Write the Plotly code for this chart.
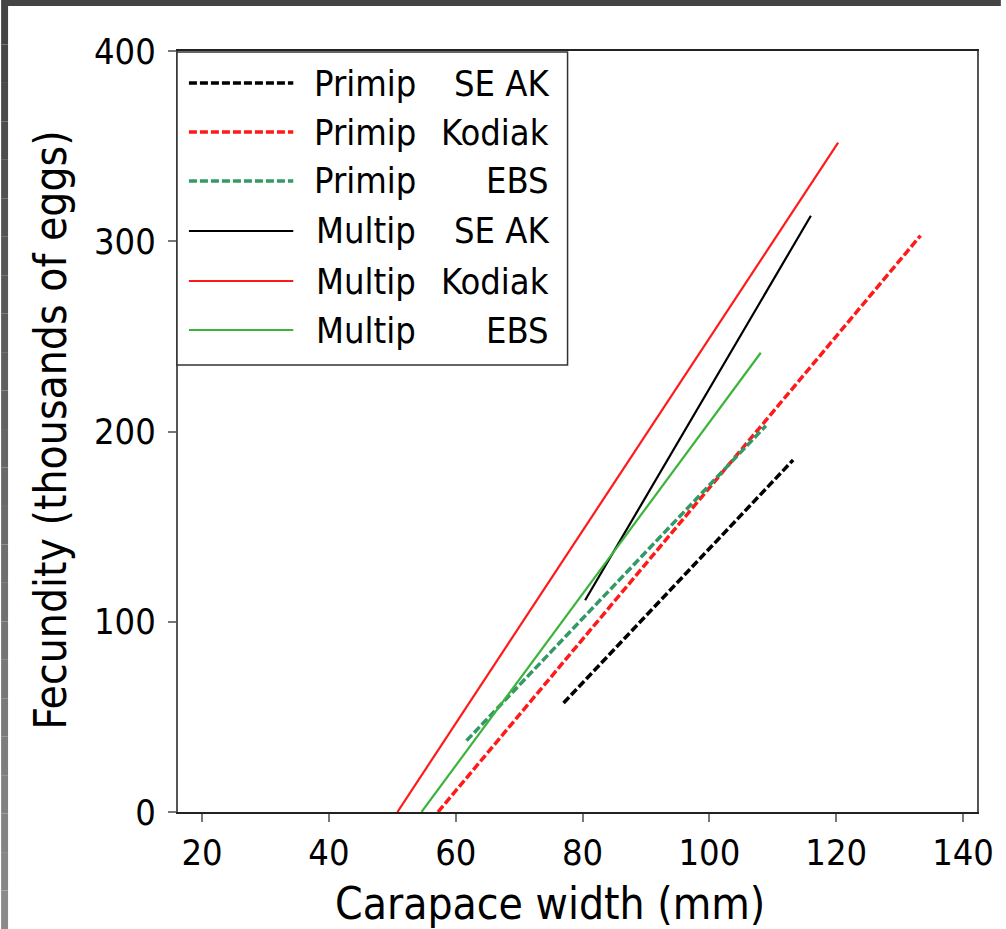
import plotly.graph_objects as go

# ---- data ----
series_names = ["Primip SE AK", "Primip Kodiak", "Primip EBS",
                "Multip SE AK", "Multip Kodiak", "Multip EBS"]
stage_labels = ["Primip", "Primip", "Primip", "Multip", "Multip", "Multip"]
region_labels = ["SE AK", "Kodiak", "EBS", "SE AK", "Kodiak", "EBS"]
x_start = [77.0, 57.2, 61.7, 80.4, 50.8, 54.6]
x_end = [113.2, 133.3, 108.9, 116.0, 120.3, 108.1]
y_start = [57.3, 0.0, 37.5, 111.3, 0.0, 0.0]
y_end = [185.0, 303.0, 203.0, 313.4, 351.8, 241.4]
x_ticks = [20, 40, 60, 80, 100, 120, 140]
y_ticks = [0, 100, 200, 300, 400]

colors = ["#000000", "#ff1a1a", "#339966", "#000000", "#ff1a1a", "#3cb43c"]
dashes = ["8px,3px", "8px,3px", "8px,3px", "solid", "solid", "solid"]
widths = [3.5, 3.5, 3.5, 2.2, 2.2, 2.2]

FONT = "DejaVu Sans Condensed, DejaVu Sans, sans-serif"
W, H = 1006, 929
L, R, T, B = 178, 982, 51, 812


def px(xp):
    return (xp - L) / (R - L)


def py(yp):
    return (B - yp) / (B - T)


fig = go.Figure()
for i, name in enumerate(series_names):
    fig.add_trace(go.Scatter(
        x=[x_start[i], x_end[i]], y=[y_start[i], y_end[i]],
        mode="lines", name=name, showlegend=False,
        line=dict(color=colors[i], dash=dashes[i], width=widths[i]),
    ))

shapes = []
# window frame decoration
shapes.append(dict(type="rect", xref="paper", yref="paper",
                   x0=px(0), x1=px(W), y0=py(6), y1=py(0),
                   fillcolor="#444444", line=dict(width=0), layer="above"))
nseg = 24
for k in range(nseg):
    t = k / (nseg - 1)
    g = int(0x44 + (0x8a - 0x44) * t)
    c = "#%02x%02x%02x" % (g, g, g)
    y0p = 6 + (H - 6) * k / nseg
    y1p = 6 + (H - 6) * (k + 1) / nseg
    shapes.append(dict(type="rect", xref="paper", yref="paper",
                       x0=px(0), x1=px(7), y0=py(y1p), y1=py(y0p),
                       fillcolor=c, line=dict(width=0), layer="above"))

# legend box
shapes.append(dict(type="rect", xref="paper", yref="paper",
                   x0=px(177), x1=px(570), y0=py(365), y1=py(52),
                   fillcolor="white", line=dict(color="#333333", width=1.5),
                   layer="above"))
annotations = []
row_y = [83, 132, 181, 231, 281, 330]
for i in range(len(series_names)):
    shapes.append(dict(type="line", xref="paper", yref="paper",
                       x0=px(189), x1=px(294), y0=py(row_y[i]), y1=py(row_y[i]),
                       line=dict(color=colors[i], dash=dashes[i], width=widths[i]),
                       layer="above"))
    annotations.append(dict(xref="paper", yref="paper", x=px(420), y=py(row_y[i]),
                            text=stage_labels[i], showarrow=False,
                            xanchor="right", yanchor="middle",
                            font=dict(family=FONT, size=36, color="black")))
    annotations.append(dict(xref="paper", yref="paper", x=px(553), y=py(row_y[i]),
                            text=region_labels[i], showarrow=False,
                            xanchor="right", yanchor="middle",
                            font=dict(family=FONT, size=36, color="black")))

# axis titles
annotations.append(dict(xref="paper", yref="paper", x=px(552), y=py(903),
                        text="Carapace width (mm)", showarrow=False,
                        xanchor="center", yanchor="middle",
                        font=dict(family=FONT, size=44, color="black")))
annotations.append(dict(xref="paper", yref="paper", x=px(50), y=py(430),
                        text="Fecundity (thousands of eggs)", showarrow=False,
                        textangle=-90, xanchor="center", yanchor="middle",
                        font=dict(family=FONT, size=44, color="black")))

fig.update_layout(
    width=W, height=H,
    margin=dict(l=L, r=W - R, t=T, b=H - B),
    paper_bgcolor="white", plot_bgcolor="white",
    shapes=shapes, annotations=annotations,
    showlegend=False,
    font=dict(family=FONT, size=36, color="black"),
)
fig.update_xaxes(range=[16.2, 142.2], tickvals=x_ticks, ticks="outside",
                 ticklen=8, tickwidth=2, tickcolor="#777777",
                 showline=True, linecolor="#222222", linewidth=2, mirror=True,
                 showgrid=False, zeroline=False,
                 tickfont=dict(family=FONT, size=36, color="black"))
fig.update_yaxes(range=[0, 400], tickvals=y_ticks, ticks="outside",
                 ticklen=8, tickwidth=2, tickcolor="#777777",
                 showline=True, linecolor="#555555", linewidth=2, mirror=True,
                 showgrid=False, zeroline=False, ticklabelstandoff=5,
                 tickfont=dict(family=FONT, size=36, color="black"))

fig.write_html("out.html", config={"displayModeBar": False},
               post_script="document.body.style.margin='0';document.body.style.padding='0';")
